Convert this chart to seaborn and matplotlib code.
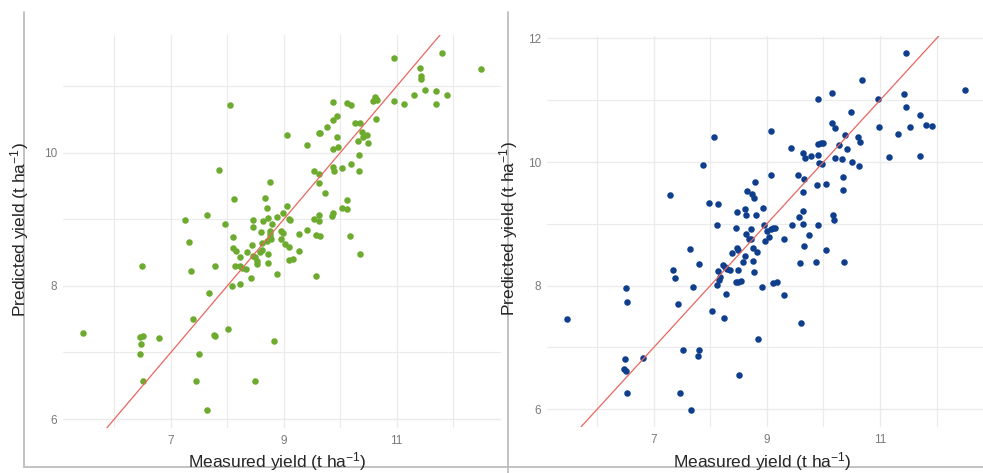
import numpy as np
import pandas as pd
import matplotlib.pyplot as plt
import seaborn as sns
from matplotlib.lines import Line2D

# left panel (green): measured vs predicted yield, t/ha
measured_a = [5.44, 6.49, 6.45, 6.50, 6.47, 6.45, 6.79, 6.50,
              8.04,
              9.88, 7.85, 9.53, 9.62, 9.87, 9.90, 10.03, 8.75, 9.62, 9.73,
              8.12, 8.66, 8.70, 9.05, 8.98, 8.89, 8.72, 9.09, 9.12, 7.64,
              7.25, 7.96, 8.45, 8.63, 8.79, 8.45, 8.59, 8.75, 8.75, 8.75,
              8.95, 8.98, 8.77, 8.70, 8.61, 8.43, 8.10, 7.32, 8.95, 9.02,
              9.09, 9.28, 9.42, 9.53, 9.62, 9.62, 9.57, 9.64, 9.85, 9.88,
              10.03, 10.12, 10.12, 10.17, 8.10, 8.15, 8.22, 8.35, 8.45, 8.50,
              8.58, 8.61, 8.52, 8.52, 8.72, 8.72, 9.09, 9.16, 9.28, 8.13,
              8.22, 8.26, 8.33, 7.78, 7.35, 8.42, 8.88, 9.58, 8.08, 8.22,
              7.67, 7.39,
              10.95, 11.80, 12.49, 11.41, 11.44, 11.44, 11.51, 11.69, 11.90, 11.69,
              11.30, 11.14, 10.96, 10.61, 10.63, 10.59, 10.66, 9.88, 10.13, 10.19,
              9.94, 9.87, 9.76, 10.26, 10.36, 10.63, 10.38, 10.47, 10.40, 10.49,
              10.31, 9.94, 9.96, 9.62, 9.64, 9.05, 9.41, 10.33, 10.19, 10.33,
              10.35, 8.82, 8.50,
              8.01, 7.76, 7.78, 7.50, 7.44, 7.64]
predicted_a = [7.29, 8.30, 7.23, 7.25, 7.13, 6.98, 7.22, 6.57,
               10.72,
               10.05, 9.74, 9.73, 9.68, 9.79, 9.73, 9.77, 9.56, 9.55, 9.40,
               9.31, 9.32, 9.17, 9.20, 9.10, 9.04, 9.02, 9.01, 8.99, 9.07,
               8.99, 8.93, 8.99, 8.98, 8.93, 8.89, 8.81, 8.83, 8.78, 8.74,
               8.83, 8.80, 8.71, 8.68, 8.65, 8.62, 8.74, 8.66, 8.71, 8.63,
               8.59, 8.78, 8.84, 9.01, 8.98, 9.07, 8.77, 8.75, 9.05, 9.10,
               9.17, 9.16, 9.29, 8.75, 8.57, 8.53, 8.44, 8.51, 8.45, 8.44,
               8.51, 8.54, 8.38, 8.33, 8.48, 8.35, 8.39, 8.41, 8.53, 8.30,
               8.30, 8.27, 8.26, 8.30, 8.23, 8.12, 8.18, 8.15, 8.00, 8.03,
               7.89, 7.50,
               11.43, 11.50, 11.26, 11.28, 11.16, 11.11, 10.95, 10.93, 10.87, 10.74,
               10.87, 10.74, 10.78, 10.84, 10.81, 10.78, 10.80, 10.77, 10.75, 10.72,
               10.56, 10.50, 10.39, 10.45, 10.45, 10.51, 10.32, 10.27, 10.24, 10.15,
               10.18, 10.23, 10.09, 10.29, 10.29, 10.26, 10.12, 9.97, 9.83, 9.73,
               8.48, 7.17, 6.57,
               7.35, 7.26, 7.25, 6.98, 6.57, 6.14]

# right panel (blue)
measured_b = [8.06, 11.46, 10.68, 10.15, 9.90, 10.96, 11.42, 11.46, 10.49, 11.71,
              12.50, 11.81, 11.92, 11.53, 10.98, 11.32, 10.15, 10.20, 10.38, 10.61,
              10.65, 9.07, 11.16, 11.71, 10.50, 10.63,
              7.87, 7.28, 9.42, 9.64, 9.67, 9.78, 9.90, 9.90, 9.96, 9.99,
              10.27, 10.42, 9.92, 9.97, 10.20, 10.33, 8.79, 8.65, 8.73, 8.77,
              9.07, 9.55, 9.65, 10.35, 9.88, 10.04, 10.35, 9.64, 7.97, 8.13,
              8.47, 8.61, 8.63, 8.81, 8.93, 8.12, 8.45, 8.63, 8.72, 8.68,
              8.72, 8.95, 9.00, 9.07, 9.11, 9.14, 8.96, 9.04, 9.30, 9.44,
              9.64, 9.90, 9.57, 9.64, 9.74, 9.65, 9.87, 10.04, 10.36, 9.58,
              10.17, 10.19, 8.75, 8.82, 8.75, 8.61, 8.58, 8.47, 8.38, 8.49,
              7.64, 7.80, 8.13, 8.22, 8.26, 8.29, 8.35, 8.49, 8.77, 8.17,
              8.15, 8.12, 8.45, 8.49, 8.54, 8.91, 9.11, 9.18, 9.30, 8.27,
              7.69, 7.34, 7.37, 7.42, 8.03, 8.24,
              6.50, 6.52, 5.46, 7.51, 7.80, 7.78, 6.81, 6.49, 6.47, 6.50,
              6.52, 7.46, 7.65, 8.50, 9.60, 8.84]
predicted_b = [10.41, 11.77, 11.33, 11.12, 11.02, 11.02, 11.10, 10.89, 10.81, 10.76,
               11.17, 10.60, 10.58, 10.57, 10.57, 10.45, 10.63, 10.55, 10.44, 10.41,
               10.32, 10.50, 10.08, 10.10, 10.00, 9.94,
               9.95, 9.47, 10.23, 10.15, 10.06, 10.10, 10.11, 10.29, 10.31, 10.31,
               10.28, 10.21, 9.98, 9.97, 10.06, 10.05, 9.68, 9.53, 9.48, 9.42,
               9.79, 9.79, 9.72, 9.76, 9.63, 9.64, 9.55, 9.51, 9.34, 9.32,
               9.19, 9.24, 9.14, 9.14, 9.25, 8.98, 8.93, 8.83, 8.91, 8.75,
               8.75, 8.98, 8.88, 8.91, 8.93, 8.93, 8.72, 8.78, 8.75, 8.98,
               9.00, 8.98, 9.11, 9.21, 8.82, 8.64, 8.38, 8.57, 8.38, 8.36,
               9.14, 9.06, 8.61, 8.54, 8.40, 8.48, 8.38, 8.61, 8.53, 8.57,
               8.59, 8.35, 8.23, 8.33, 8.30, 8.27, 8.25, 8.25, 8.22, 8.14,
               8.09, 8.01, 8.06, 8.06, 8.07, 7.97, 8.04, 8.06, 7.84, 7.86,
               7.97, 8.25, 8.12, 7.70, 7.59, 7.47,
               7.96, 7.73, 7.46, 6.95, 6.95, 6.86, 6.82, 6.81, 6.65, 6.61,
               6.26, 6.26, 5.98, 6.55, 7.39, 7.13]

df_a = pd.DataFrame({'Measured': measured_a, 'Predicted': predicted_a})
df_b = pd.DataFrame({'Measured': measured_b, 'Predicted': predicted_b})

sns.set_style('white')
plt.rcParams['font.family'] = ['Liberation Sans', 'DejaVu Sans']
plt.rcParams['mathtext.default'] = 'regular'

W, H = 983, 473
fig = plt.figure(figsize=(W / 100, H / 100), dpi=100)


def px_box(x0, y0, x1, y1):
    return [x0 / W, 1 - y1 / H, (x1 - x0) / W, (y1 - y0) / H]


ax1 = fig.add_axes(px_box(63, 35, 501, 428))
ax2 = fig.add_axes(px_box(547, 36, 984, 427))

panels = [
    (ax1, df_a, '#6cab2d', (5.09, 12.85), (5.865, 11.77), [6, 8, 10], [7, 9, 11]),
    (ax2, df_b, '#0f3f8c', (5.11, 12.84), (5.71, 12.04), [6, 8, 10, 12], [7, 9, 11]),
]

for ax, df, col, xl, yl, ymaj, ymin in panels:
    sns.scatterplot(data=df, x='Measured', y='Predicted', color=col, s=22,
                    linewidth=0, ax=ax, zorder=3)
    ax.axline((6, 6), slope=1, color='#e8675f', lw=0.9, zorder=4)
    ax.set_xlim(*xl)
    ax.set_ylim(*yl)
    ax.set_xticks([7, 9, 11])
    ax.set_xticks([6, 8, 10, 12], minor=True)
    ax.set_yticks(ymaj)
    ax.set_yticks(ymin, minor=True)
    ax.grid(which='major', color='#ebebeb', lw=1.0)
    ax.grid(which='minor', color='#ebebeb', lw=0.8)
    ax.set_axisbelow(True)
    ax.tick_params(which='both', length=0, labelsize=8.5, labelcolor='#7a7a7a')
    ax.tick_params(axis='x', pad=5)
    ax.tick_params(axis='y', pad=4)
    for s in ax.spines.values():
        s.set_visible(False)
    ax.set_xlabel('')
    ax.set_ylabel('')

# axis titles
xlab = 'Measured yield (t ha$^{-1}$)'
ylab = 'Predicted yield (t ha$^{-1}$)'
fig.text(277 / W, 1 - 467 / H, xlab, ha='center', va='baseline', fontsize=12.5)
fig.text(762 / W, 1 - 467 / H, xlab, ha='center', va='baseline', fontsize=12.5)
fig.text(20 / W, 1 - 230 / H, ylab, rotation=90, ha='center', va='center', fontsize=12.5)
fig.text(509 / W, 1 - 229 / H, ylab, rotation=90, ha='center', va='center', fontsize=12.5)

# grey frame lines around each panel
frame = dict(transform=fig.transFigure, color='#bdbdbd', lw=1.3)
fig.add_artist(Line2D([24 / W, 24 / W], [1 - 12 / H, 1 - 467 / H], **frame))
fig.add_artist(Line2D([508 / W, 508 / W], [1 - 12 / H, 0], **frame))
fig.add_artist(Line2D([24 / W, 1], [1 - 467 / H, 1 - 467 / H], **frame))

fig.savefig('out.png', dpi=100, facecolor='white')
